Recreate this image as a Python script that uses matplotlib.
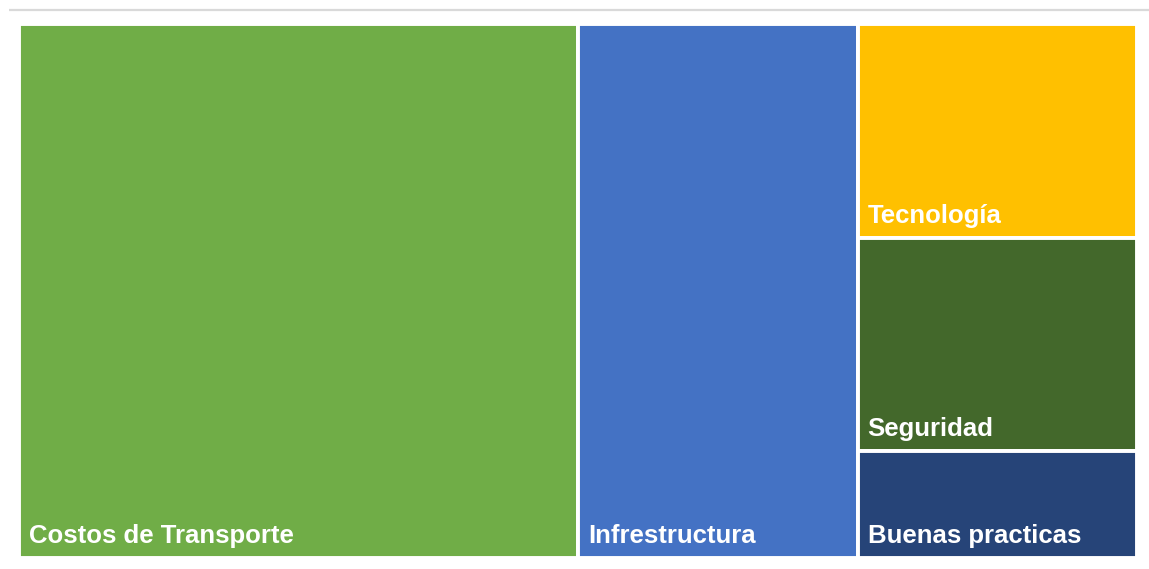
import matplotlib.pyplot as plt
from matplotlib.patches import Rectangle

# treemap data (relative sizes)
labels = ['Costos de Transporte', 'Infrestructura', 'Tecnología', 'Seguridad', 'Buenas practicas']
values = [10, 5, 2, 2, 1]
colors = ['#70AD47', '#4472C4', '#FFC000', '#43682B', '#264478']
columns = [[0], [1], [2, 3, 4]]     # which items stack in each column

W, H = 1149, 569
fig = plt.figure(figsize=(W / 100, H / 100), dpi=100)
ax = fig.add_axes([0, 0, 1, 1])
ax.set_xlim(0, W)
ax.set_ylim(H, 0)
ax.axis('off')

# thin grey rule at the top
ax.plot([9, W], [10, 10], color='#D9D9D9', lw=1.6, solid_capstyle='butt')

# plotting area of the treemap
x0, x1 = 19, 1137
y0, y1 = 24, 558
total = sum(values)

x = x0
for col in columns:
    colsum = sum(values[i] for i in col)
    w = (x1 - x0) * colsum / total
    y = y0
    for i in col:
        h = (y1 - y0) * values[i] / colsum
        ax.add_patch(Rectangle((x, y), w, h, facecolor=colors[i],
                               edgecolor='white', lw=2.8))
        ax.text(x + 10, y + h - 15, labels[i], color='white',
                fontsize=18.5, fontweight='bold', family='Liberation Sans',
                ha='left', va='baseline')
        y += h
    x += w

fig.savefig('out.png', dpi=100, facecolor='white')
